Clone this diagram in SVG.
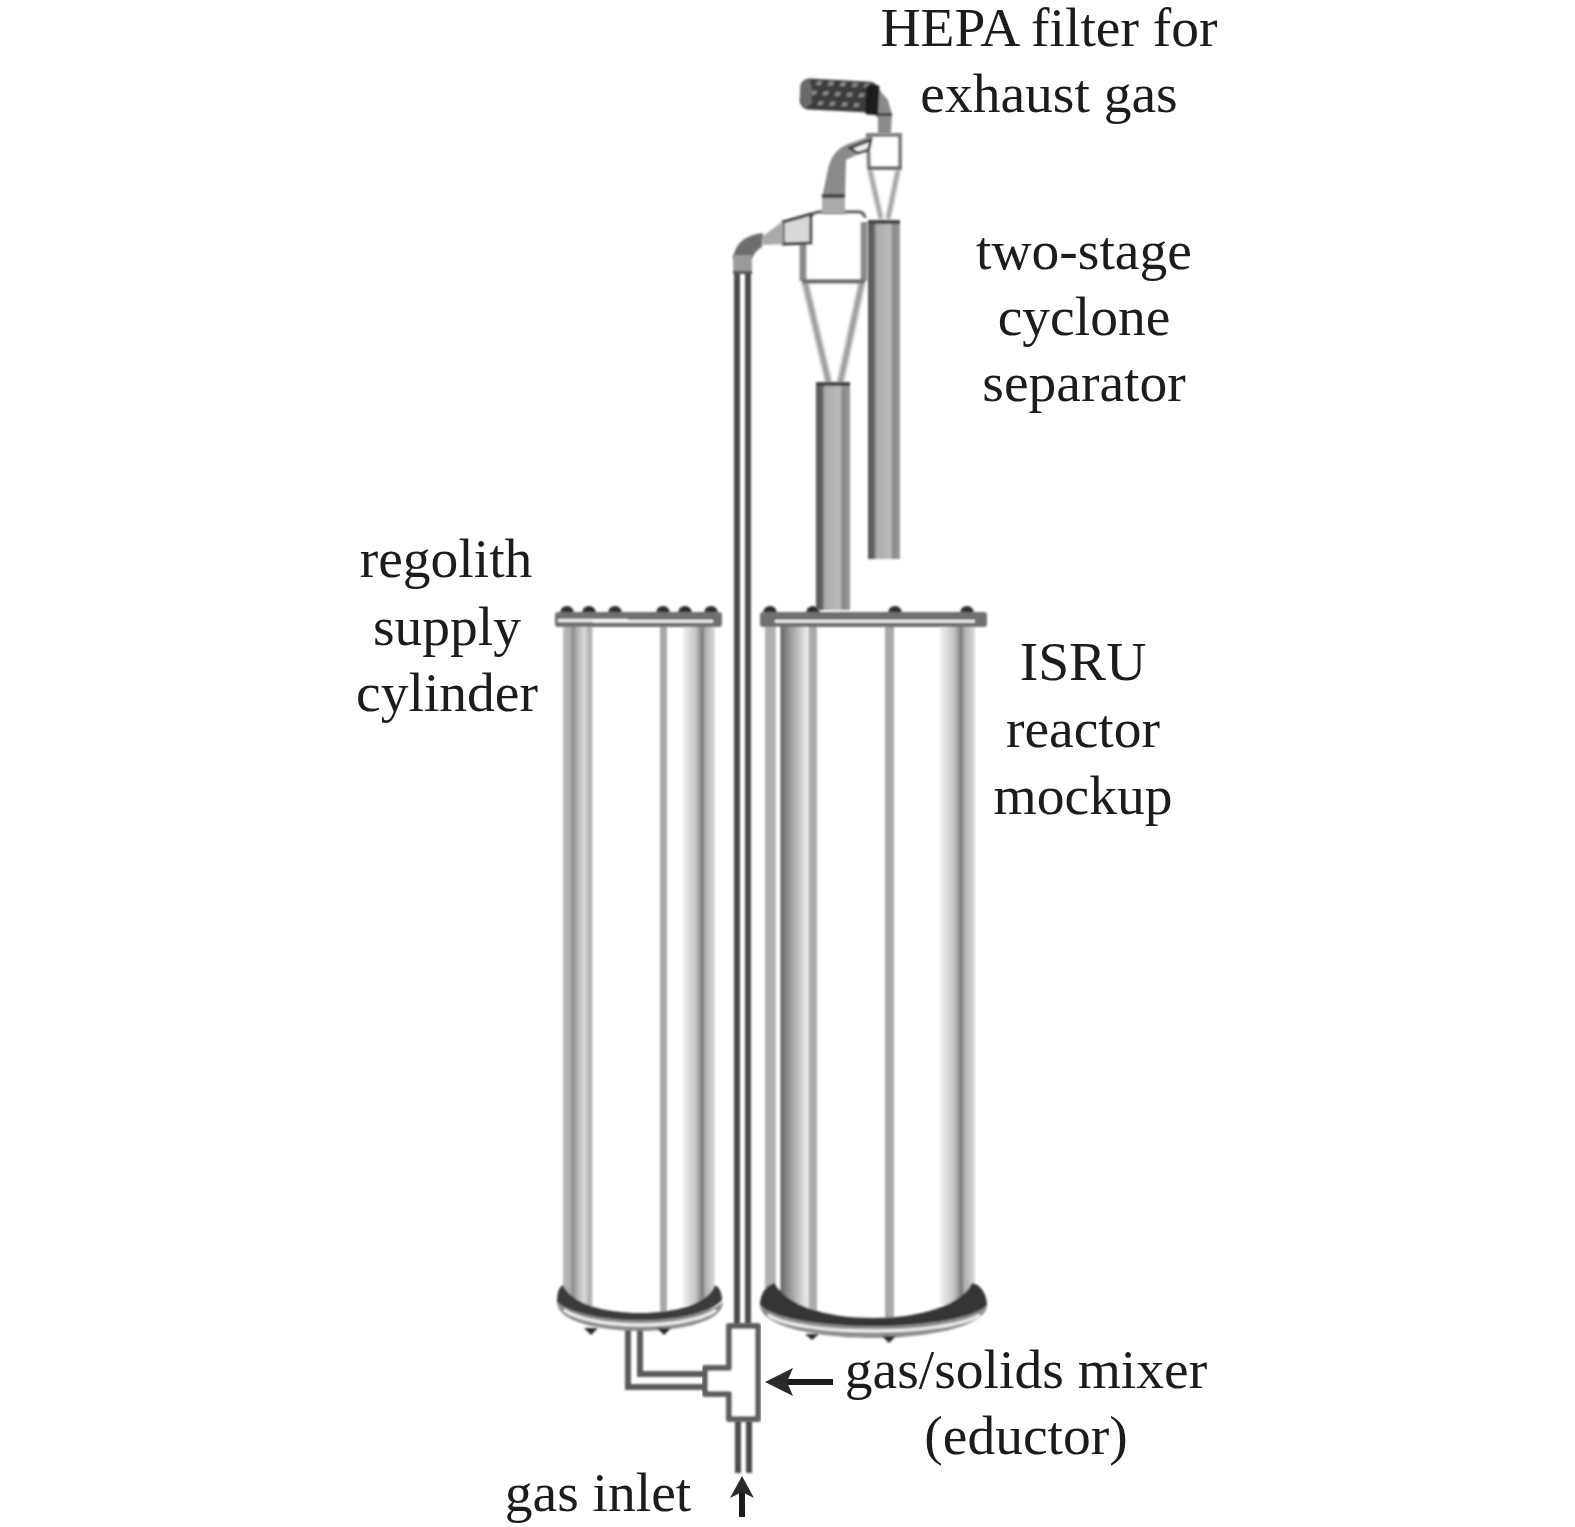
<svg xmlns="http://www.w3.org/2000/svg" width="1575" height="1527" viewBox="0 0 1575 1527">
<defs>
<style>
text{font-family:"Liberation Serif","Times New Roman",serif;font-size:55.5px;fill:#1f1b1c;text-anchor:middle}
.m{fill:#707070}.g{fill:#a8a8a8}
.s{fill:none;stroke-linejoin:miter}
.w{fill:#fff;stroke:#5e5e5e;stroke-width:6;stroke-linejoin:round}
.k{fill:#2b2b2b}
.ar{stroke:#1f1b1c;stroke-width:6;fill:none}
.cn{stroke:#9c9c9c;fill:none}
</style>
<filter id="b" x="-5%" y="-5%" width="110%" height="110%"><feGaussianBlur stdDeviation="0.9"/></filter>
<filter id="b2" x="-30%" y="-5%" width="160%" height="110%"><feGaussianBlur stdDeviation="1.3"/></filter>
<linearGradient id="tube" x1="0" x2="1" y1="0" y2="0"><stop offset="0" stop-color="#555"/><stop offset=".2" stop-color="#666"/><stop offset=".25" stop-color="#aaa"/><stop offset=".7" stop-color="#bbb"/><stop offset=".78" stop-color="#888"/><stop offset="1" stop-color="#999"/></linearGradient>
<linearGradient id="band1" x1="0" x2="1" y1="0" y2="0"><stop offset="0" stop-color="#bbb"/><stop offset=".28" stop-color="#aaa"/><stop offset=".3" stop-color="#777"/><stop offset=".36" stop-color="#999"/><stop offset=".7" stop-color="#ddd"/><stop offset=".9" stop-color="#aaa"/><stop offset="1" stop-color="#ddd"/></linearGradient>
<linearGradient id="band2" x1="0" x2="1" y1="0" y2="0"><stop offset="0" stop-color="#f0f0f0"/><stop offset=".4" stop-color="#c4c4c4"/><stop offset=".62" stop-color="#777"/><stop offset=".68" stop-color="#aaa"/><stop offset="1" stop-color="#ddd"/></linearGradient>
<linearGradient id="band3" x1="0" x2="1" y1="0" y2="0"><stop offset="0" stop-color="#b0b0b0"/><stop offset=".2" stop-color="#b0b0b0"/><stop offset=".22" stop-color="#fff"/><stop offset=".28" stop-color="#fff"/><stop offset=".3" stop-color="#666"/><stop offset=".55" stop-color="#aaa"/><stop offset=".82" stop-color="#eee"/><stop offset=".86" stop-color="#aaa"/><stop offset="1" stop-color="#aaa"/></linearGradient>
<pattern id="coil" width="12" height="10" patternUnits="userSpaceOnUse" patternTransform="skewX(-25)"><rect width="12" height="10" fill="#3c3c3c"/><rect x="3" y="2" width="5" height="4" fill="#8c8c8c"/></pattern>
</defs>

<g id="supply-cylinder" filter="url(#b)">
<rect x="563" y="620" width="30" height="690" fill="url(#band1)"/>
<rect x="660" y="620" width="7" height="692" class="g"/>
<rect x="683" y="620" width="32" height="685" fill="url(#band2)"/>
<path class="k" d="M560 613a7 7 0 0 1 14 0zM582 613a7 7 0 0 1 14 0zM608 613a7 7 0 0 1 14 0zM656 613a7 7 0 0 1 14 0zM678 613a7 7 0 0 1 14 0zM704 613a7 7 0 0 1 14 0z"/>
<rect x="555" y="612" width="167" height="15" rx="3" class="m"/>
<rect x="558" y="619" width="70" height="3" fill="#eee"/>
<rect x="593" y="620" width="120" height="2.5" fill="#fff"/>
<path d="M557 1302C557 1322 600 1331 640 1331C680 1331 723 1322 723 1302C712 1312 680 1316 640 1316C600 1316 568 1312 557 1302Z" fill="#8e8e8e"/>
<path d="M557 1302C557 1290 560 1287 563 1285C572 1304 604 1313 640 1313C676 1313 708 1304 715 1285C719 1287 722 1292 722 1300C712 1312 680 1320 640 1320C600 1320 568 1312 557 1302Z" fill="#3a3a3a"/>
<path d="M564 1310C578 1320 610 1325 640 1325C670 1325 702 1320 716 1310" fill="none" stroke="#f2f2f2" stroke-width="3"/>
<path class="k" d="M584 1328h14l-7 7zM657 1328h14l-7 7z"/>
</g>

<g id="isru-reactor" filter="url(#b)">
<rect x="765" y="620" width="52" height="692" fill="url(#band3)"/>
<rect x="885" y="620" width="9" height="700" class="g"/>
<rect x="940" y="620" width="35" height="685" fill="url(#band2)"/>
<path class="k" d="M763 613a7 7 0 0 1 14 0zM806 613a7 7 0 0 1 14 0zM888 613a7 7 0 0 1 14 0zM960 613a7 7 0 0 1 14 0z"/>
<rect x="760" y="612" width="227" height="15" rx="3" class="m"/>
<rect x="775" y="620" width="200" height="2.5" fill="#fff"/>
<path d="M760 1305C760 1326 816 1338 873 1338C930 1338 987 1326 987 1305C975 1318 925 1322 873 1322C821 1322 772 1318 760 1305Z" fill="#8e8e8e"/>
<path d="M760 1305C760 1292 768 1284 775 1283C785 1305 825 1318 873 1318C921 1318 962 1305 972 1283C980 1284 987 1294 987 1305C975 1318 925 1326 873 1326C821 1326 772 1318 760 1305Z" fill="#343434"/>
<path d="M768 1315C785 1326 830 1331 873 1331C916 1331 962 1326 980 1315" fill="none" stroke="#f2f2f2" stroke-width="3"/>
<path class="k" d="M805 1334h14l-7 6zM882 1336h14l-7 7z"/>
</g>

<g id="cyclone-1" filter="url(#b)">
<path d="M822 214H858Q864 215 864 222V281H803V244H811V222Q812 215 822 214Z" fill="#fff"/>
<path d="M803 244V281M864 222V281" stroke="#8a8a8a" stroke-width="7" fill="none"/>
<path d="M811 216Q813 212 822 212H858Q864 212 865 218" stroke="#6a6a6a" stroke-width="3.5" fill="none"/>
<path class="cn" stroke-width="6" filter="url(#b2)" d="M805 282L829 384M862 282L840 384"/>
<rect x="802" y="279" width="63" height="4.5" class="m"/>
<path d="M783 222L811 214V243L783 244Z" fill="#d8d8d8" stroke="#3c3c3c" stroke-width="3"/>
<path d="M763 236L783 221V244L763 245Z" fill="#aaa"/>
<path d="M733 258Q736 236 763 233L762 247Q756 250 752 258Z" fill="#6e6e6e"/>
<rect x="816" y="384" width="34" height="226" fill="url(#tube)"/>
<rect x="816" y="382" width="34" height="4" fill="#444"/>
</g>

<g id="cyclone-2" filter="url(#b)">
<path class="cn" stroke-width="4.5" filter="url(#b2)" d="M870 170L881 219M898 170L888 219"/>
<path d="M868 135H900V168H869Z" fill="#fff" stroke="#808080" stroke-width="4"/>
<rect x="868" y="166" width="33" height="4" class="m"/>
<path d="M822 198L828 169Q832 150 848 144L873 135 871 148 846 160 845 198Z" fill="#8a8a8a"/>
<path d="M850 148L871 140 868 150 858 153Z" fill="#eee" stroke="#333" stroke-width="2.5"/>
<rect x="822" y="196" width="23" height="18" fill="#aaa"/>
<rect x="822" y="194" width="23" height="4" fill="#444"/>
<rect x="868" y="221" width="32" height="338" fill="url(#tube)"/>
<rect x="868" y="220" width="32" height="4" fill="#444"/>
</g>

<g id="hepa-filter" filter="url(#b)">
<path d="M876 86L888 100 892 114 891 134 878 134 878 118 866 108Z" fill="#8a8a8a"/>
<rect x="877" y="113" width="15" height="3" fill="#444"/>
<g transform="rotate(3 838 95)">
<rect x="800" y="80" width="78" height="31" rx="9" fill="url(#coil)"/>
<ellipse cx="806" cy="95" rx="6" ry="14" fill="#6a6a6a"/>
<rect x="866" y="83" width="13" height="30" rx="3" fill="#1e1e1e"/>
</g>
</g>

<g id="mixer" filter="url(#b)">
<path class="w" d="M729 1326H758V1419H729V1394H705V1368H729Z"/>
</g>

<g id="connectors">
<g filter="url(#b)">
<rect x="734" y="272" width="6" height="1052" fill="#4c4c4c"/>
<rect x="745" y="272" width="6" height="1052" fill="#4c4c4c"/>
<rect x="733" y="255" width="19" height="18" fill="#9a9a9a"/>
<rect x="733" y="271" width="19" height="3" fill="#555"/>
<path class="s" stroke="#5a5a5a" stroke-width="6" d="M628 1330V1387H705"/>
<path class="s" stroke="#5a5a5a" stroke-width="6" d="M640 1330V1374H705"/>
<rect x="735" y="1421" width="6" height="52" fill="#4c4c4c"/>
<rect x="746" y="1421" width="6" height="52" fill="#4c4c4c"/>
</g>
<path class="ar" d="M833 1382H778"/>
<path class="k" d="M765 1382L793 1368L787 1382L793 1396Z"/>
<path class="ar" d="M742 1517V1488"/>
<path class="k" d="M742 1476L754 1498L742 1492L730 1498Z"/>
</g>

<g id="labels">
<text x="1049" y="46">HEPA filter for</text>
<text x="1049" y="112">exhaust gas</text>
<text x="1084" y="269">two-stage</text>
<text x="1084" y="335">cyclone</text>
<text x="1084" y="401">separator</text>
<text x="446" y="577">regolith</text>
<text x="447" y="645">supply</text>
<text x="447" y="711">cylinder</text>
<text x="1083" y="680">ISRU</text>
<text x="1083" y="747">reactor</text>
<text x="1083" y="814">mockup</text>
<text x="1026" y="1388">gas/solids mixer</text>
<text x="1026" y="1454">(eductor)</text>
<text x="598" y="1511">gas inlet</text>
</g>
</svg>
